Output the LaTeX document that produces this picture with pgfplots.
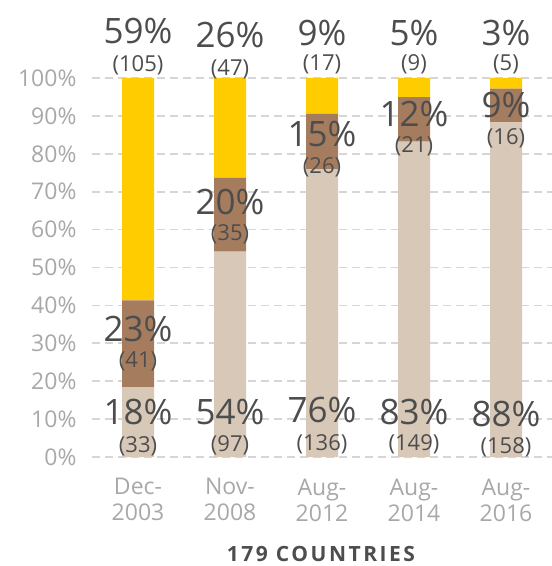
\documentclass[border=0pt]{standalone}
\usepackage{fontspec}
\setmainfont{Open Sans}
\usepackage{pgfplots}
\pgfplotsset{compat=1.18}
\definecolor{cbeige}{HTML}{D8C8B8}
\definecolor{cbrown}{HTML}{A67C5E}
\definecolor{cyel}{HTML}{FFCC00}
\definecolor{ctxt}{HTML}{4D4D4D}
\definecolor{ctick}{HTML}{A8A8A8}
\definecolor{cgrid}{HTML}{D6D6D6}
\newcommand{\bigp}[1]{{\fontsize{35}{38}\selectfont #1}}
\newcommand{\cnt}[1]{{\fontsize{22}{24}\selectfont #1}}
\begin{document}
\begin{tikzpicture}[x=1pt,y=1pt]
\path[use as bounding box] (0,0) rectangle (552,566);
\begin{axis}[
  at={(92pt,109pt)}, anchor=south west,
  scale only axis, width=460pt, height=379pt,
  ybar stacked, bar width=32pt,
  xmin=-0.5, xmax=4.5, ymin=0, ymax=100,
  axis line style={draw=none}, clip=false,
  ytick={0,10,...,100},
  ymajorgrids, grid style={cgrid, line width=1.7pt, dash pattern=on 8pt off 5pt},
  xtick={0,1,2,3,4},
  xticklabels={{Dec-\\2003},{Nov-\\2008},{Aug-\\2012},{Aug-\\2014},{Aug-\\2016}},
  xticklabel style={align=center, font=\fontsize{23}{26}\selectfont, text=ctick, yshift=-18pt},
  yticklabel={\pgfmathprintnumber{\tick}\%},
  yticklabel style={font=\fontsize{23}{26}\selectfont, text=ctick, xshift=-12pt},
  /pgf/number format/assume math mode=true,
  major tick length=0pt,
  after end axis/.code={
    \tikzset{every node/.style={text=ctxt, inner sep=0pt}}
    \node at (axis cs:0,112.3) {\bigp{59\%}};
    \node at (axis cs:0,103.4) {\cnt{(105)}};
    \node at (axis cs:1,111.3) {\bigp{26\%}};
    \node at (axis cs:1,102.4) {\cnt{(47)}};
    \node at (axis cs:2,112) {\bigp{9\%}};
    \node at (axis cs:2,103.7) {\cnt{(17)}};
    \node at (axis cs:3,112) {\bigp{5\%}};
    \node at (axis cs:3,103.7) {\cnt{(9)}};
    \node at (axis cs:4,112) {\bigp{3\%}};
    \node at (axis cs:4,103.7) {\cnt{(5)}};
    \node at (axis cs:0,33.9) {\bigp{23\%}};
    \node at (axis cs:0,25.3) {\cnt{(41)}};
    \node at (axis cs:1,67.4) {\bigp{20\%}};
    \node at (axis cs:1,58.8) {\cnt{(35)}};
    \node at (axis cs:2,85.1) {\bigp{15\%}};
    \node at (axis cs:2,76.5) {\cnt{(26)}};
    \node at (axis cs:3,90.5) {\bigp{12\%}};
    \node at (axis cs:3,81.9) {\cnt{(21)}};
    \node at (axis cs:4,92.9) {\bigp{9\%}};
    \node at (axis cs:4,84.0) {\cnt{(16)}};
    \node at (axis cs:0,12.0) {\bigp{18\%}};
    \node at (axis cs:0,2.9) {\cnt{(33)}};
    \node at (axis cs:1,12.0) {\bigp{54\%}};
    \node at (axis cs:1,3.0) {\cnt{(97)}};
    \node at (axis cs:2,12.4) {\bigp{76\%}};
    \node at (axis cs:2,3.4) {\cnt{(136)}};
    \node at (axis cs:3,12.0) {\bigp{83\%}};
    \node at (axis cs:3,3.4) {\cnt{(149)}};
    \node at (axis cs:4,11.3) {\bigp{88\%}};
    \node at (axis cs:4,2.6) {\cnt{(158)}};
  },
]
\addplot[fill=cbeige, draw=none] coordinates {(0,18.44) (1,54.19) (2,75.98) (3,83.24) (4,88.27)};
\addplot[fill=cbrown, draw=none] coordinates {(0,22.91) (1,19.55) (2,14.53) (3,11.73) (4,8.94)};
\addplot[fill=cyel, draw=none] coordinates {(0,58.66) (1,26.26) (2,9.50) (3,5.03) (4,2.79)};
\end{axis}
\node[text=ctxt, inner sep=0pt, font=\fontsize{21}{24}\selectfont\bfseries\addfontfeatures{LetterSpace=12}, anchor=base] at (321,5) {179 COUNTRIES};
\end{tikzpicture}
\end{document}
